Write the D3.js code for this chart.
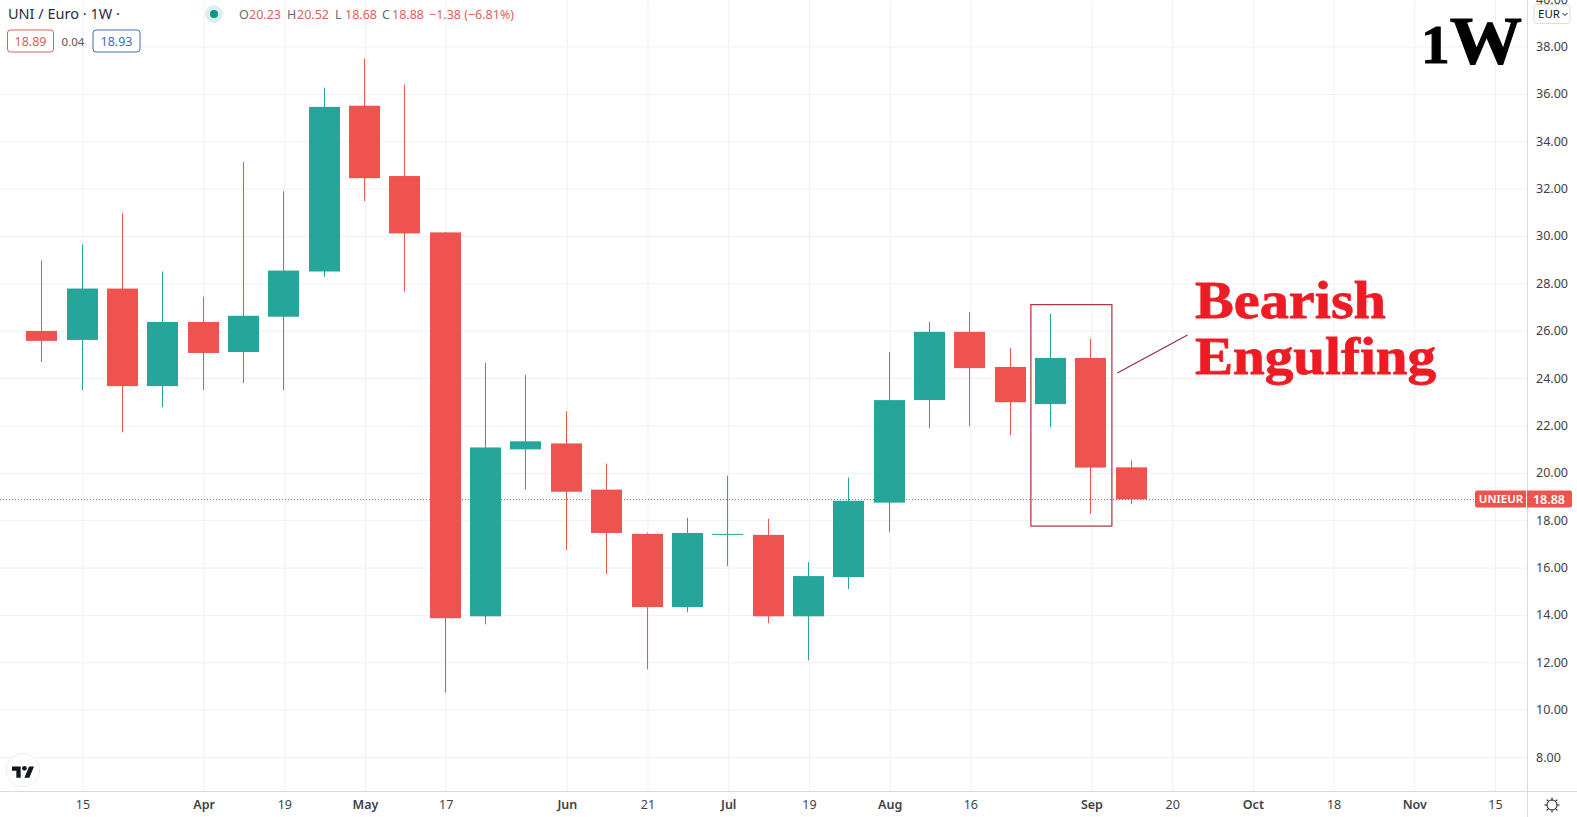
<!DOCTYPE html>
<html>
<head>
<meta charset="utf-8">
<script src="https://d3js.org/d3.v7.min.js"></script>
<style>
body { margin: 0; background: #fff; overflow: hidden; }
text { font-family: "Noto Sans", sans-serif; }
</style>
</head>
<body>
<div id="chart"></div>
<script>
const svgWidth = 1577
const svgHeight = 817

const firstWeek = "2021-03-08"
const opens = [25.99, 25.61, 27.78, 23.66, 26.37, 25.1, 26.59, 28.5, 35.5, 32.53, 30.15, 13.94, 20.99, 21.24, 19.29, 17.42, 14.33, 17.38, 17.38, 13.94, 15.6, 18.74, 23.07, 25.95, 24.47, 22.9, 24.85, 20.23]
const highs = [28.96, 29.64, 30.96, 28.5, 27.44, 33.12, 31.89, 36.26, 37.49, 36.39, 30.15, 24.64, 24.13, 22.6, 20.39, 17.47, 18.1, 19.88, 18.06, 16.23, 19.8, 25.1, 26.37, 26.8, 25.27, 26.71, 25.65, 20.52]
const lows = [24.68, 23.49, 21.71, 22.77, 23.49, 23.79, 23.49, 28.28, 31.47, 27.65, 10.72, 13.6, 19.29, 16.74, 15.73, 11.7, 14.11, 16.07, 13.65, 12.08, 15.09, 17.5, 21.88, 21.96, 21.58, 21.92, 18.27, 18.68]
const closes = [25.57, 27.78, 23.66, 26.37, 25.06, 26.63, 28.54, 35.45, 32.44, 30.11, 13.86, 21.07, 21.33, 19.2, 17.46, 14.33, 17.46, 17.42, 13.94, 15.64, 18.82, 23.07, 25.95, 24.42, 22.98, 24.85, 20.22, 18.88]

const priceTicks = [8, 10, 12, 14, 16, 18, 20, 22, 24, 26, 28, 30, 32, 34, 36, 38, 40]
const timeTicks = ["2021-03-15", "2021-04-05", "2021-04-19", "2021-05-03", "2021-05-17", "2021-06-07", "2021-06-21", "2021-07-05", "2021-07-19", "2021-08-02", "2021-08-16", "2021-09-06", "2021-09-20", "2021-10-04", "2021-10-18", "2021-11-01", "2021-11-15"]
const timeLabels = ["15", "Apr", "19", "May", "17", "Jun", "21", "Jul", "19", "Aug", "16", "Sep", "20", "Oct", "18", "Nov", "15"]
const monthLabels = ["Apr", "May", "Jun", "Jul", "Aug", "Sep", "Oct", "Nov"]

const lastPrice = 18.88

const up = "#26a69a"
const down = "#ef5350"
const gridColor = "#f0f1f3"
const lineColor = "#d9dadb"
const textColor = "#3d3f47"

const parseDay = d3.utcParse("%Y-%m-%d")
const week = 7 * 24 * 3600 * 1000

const plotRight = 1527
const plotBottom = 791

const x = d3.scaleUtc()
    .domain([parseDay("2021-03-15"), parseDay("2021-11-15")])
    .range([82.5, 1495])

const y = d3.scaleLinear()
    .domain([8, 38])
    .range([757, 46.5])

const candles = opens.map((o, i) => ({
    date: new Date(parseDay(firstWeek).getTime() + i * week),
    open: o,
    high: highs[i],
    low: lows[i],
    close: closes[i]
}))

const svg = d3.select("#chart").append("svg")
    .attr("width", svgWidth)
    .attr("height", svgHeight)
    .style("display", "block")

// clip so the marks and grid stay inside the pane
svg.append("clipPath").attr("id", "pane")
    .append("rect")
    .attr("width", plotRight)
    .attr("height", plotBottom)

// grid, drawn from the axes
const gridG = svg.append("g").attr("clip-path", "url(#pane)")

const xGrid = gridG.append("g")
    .attr("transform", `translate(0, ${plotBottom})`)
    .call(d3.axisBottom(x)
        .tickValues(timeTicks.map(parseDay))
        .tickSize(-plotBottom)
        .tickFormat(""))
const yGrid = gridG.append("g")
    .attr("transform", `translate(${plotRight}, 0)`)
    .call(d3.axisLeft(y)
        .tickValues(priceTicks)
        .tickSize(plotRight)
        .tickFormat(""))
gridG.selectAll(".domain").remove()
gridG.selectAll("line").attr("stroke", gridColor)

// last price line, the candles sit on top of it
svg.append("line")
    .attr("x1", 0)
    .attr("x2", plotRight)
    .attr("y1", Math.round(y(lastPrice)) + 0.5)
    .attr("y2", Math.round(y(lastPrice)) + 0.5)
    .attr("stroke", "#b0605c")
    .attr("stroke-dasharray", "1 2")

// candles
const candleG = svg.append("g").attr("clip-path", "url(#pane)")
const candle = candleG.selectAll("g")
    .data(candles)
    .enter()
    .append("g")
    .attr("fill", d => d.close >= d.open ? up : down)
    .attr("stroke", d => d.close >= d.open ? up : down)

candle.append("line")
    .attr("x1", d => Math.round(x(d.date)) - 0.5)
    .attr("x2", d => Math.round(x(d.date)) - 0.5)
    .attr("y1", d => y(d.high))
    .attr("y2", d => y(d.low))

candle.append("rect")
    .attr("x", d => Math.round(x(d.date)) - 16)
    .attr("width", 31)
    .attr("y", d => y(Math.max(d.open, d.close)))
    .attr("height", d => Math.max(1, Math.abs(y(d.open) - y(d.close))))
    .attr("stroke", "none")

// hand drawn annotation
svg.append("rect")
    .attr("x", x(d3.isoParse("2021-08-26T12:00:00Z")))
    .attr("y", y(27.1))
    .attr("width", 81)
    .attr("height", y(17.75) - y(27.1))
    .attr("fill", "none")
    .attr("stroke", "#a6323c")
    .attr("stroke-width", 1.2)

svg.append("line")
    .attr("x1", x(d3.isoParse("2021-09-10T12:00:00Z")))
    .attr("y1", y(24.21))
    .attr("x2", x(d3.isoParse("2021-09-22T16:00:00Z")))
    .attr("y2", y(25.82))
    .attr("stroke", "#8e2a45")
    .attr("stroke-width", 1.1)

const noteStyle = t => t
    .attr("font-weight", 700)
    .style("font-family", "'Liberation Serif', serif")
    .attr("lengthAdjust", "spacingAndGlyphs")

svg.append("text").text("Bearish").call(noteStyle)
    .attr("x", 1195).attr("y", 318)
    .attr("font-size", 52)
    .attr("textLength", 191)
    .attr("fill", "#ed1c24")
    .attr("stroke", "#ed1c24")
    .attr("stroke-width", 0.8)
svg.append("text").text("Engulfing").call(noteStyle)
    .attr("x", 1195).attr("y", 374)
    .attr("font-size", 52)
    .attr("textLength", 241)
    .attr("fill", "#ed1c24")
    .attr("stroke", "#ed1c24")
    .attr("stroke-width", 0.8)

const oneW = svg.append("text").call(noteStyle)
    .attr("x", 1421).attr("y", 63)
    .attr("font-size", 68)
    .attr("textLength", 101)
    .attr("fill", "#000")
    .attr("stroke", "#000")
    .attr("stroke-width", 1)
oneW.append("tspan").attr("font-size", 54).text("1")
oneW.append("tspan").text("W")

// price axis
svg.append("rect")
    .attr("x", plotRight).attr("width", svgWidth - plotRight)
    .attr("height", svgHeight).attr("fill", "#fff")

const yAxisG = svg.append("g")
    .attr("transform", `translate(${plotRight}, 0)`)
    .call(d3.axisRight(y)
        .tickValues(priceTicks)
        .tickSize(0)
        .tickPadding(9)
        .tickFormat(d3.format(".2f")))
yAxisG.select(".domain").remove()
yAxisG.selectAll("text")
    .attr("font-size", 12.5)
    .attr("fill", textColor)

// time axis
svg.append("rect")
    .attr("y", plotBottom).attr("width", svgWidth)
    .attr("height", svgHeight - plotBottom).attr("fill", "#fff")

const xAxisG = svg.append("g")
    .attr("transform", `translate(0, ${plotBottom})`)
    .call(d3.axisBottom(x)
        .tickValues(timeTicks.map(parseDay))
        .tickSize(0)
        .tickPadding(9)
        .tickFormat((d, i) => timeLabels[i]))
xAxisG.select(".domain").remove()
xAxisG.selectAll("text")
    .attr("font-size", 12.5)
    .attr("fill", d => textColor)
    .attr("font-weight", (d, i) => monthLabels.includes(timeLabels[i]) ? 600 : 400)

svg.append("line")
    .attr("x1", 0).attr("x2", svgWidth)
    .attr("y1", plotBottom + 0.5).attr("y2", plotBottom + 0.5)
    .attr("stroke", lineColor)
svg.append("line")
    .attr("x1", plotRight + 0.5).attr("x2", plotRight + 0.5)
    .attr("y1", 0).attr("y2", svgHeight)
    .attr("stroke", lineColor)

// price label on the axis
const tagY = Math.round(y(lastPrice))
svg.append("rect")
    .attr("x", 1475).attr("y", tagY - 8.5)
    .attr("width", 97).attr("height", 17)
    .attr("rx", 2)
    .attr("fill", down)
svg.append("line")
    .attr("x1", 1526.5).attr("x2", 1526.5)
    .attr("y1", tagY - 8.5).attr("y2", tagY + 8.5)
    .attr("stroke", "#fff")
svg.append("text").text("UNIEUR")
    .attr("x", 1501).attr("y", tagY + 4)
    .attr("text-anchor", "middle")
    .attr("font-size", 11.5)
    .attr("font-weight", 600)
    .attr("fill", "#fff")
svg.append("text").text(d3.format(".2f")(lastPrice))
    .attr("x", 1549).attr("y", tagY + 4.5)
    .attr("text-anchor", "middle")
    .attr("font-size", 12.5)
    .attr("font-weight", 600)
    .attr("fill", "#fff")

// currency button
svg.append("rect")
    .attr("x", 1534).attr("y", 4.5)
    .attr("width", 36).attr("height", 19)
    .attr("rx", 3)
    .attr("fill", "#fff")
    .attr("stroke", "#dcdde0")
svg.append("text").text("EUR")
    .attr("x", 1538).attr("y", 18)
    .attr("font-size", 11.5)
    .attr("fill", "#131722")
svg.append("path")
    .attr("d", "M1562.5 13l2.5 2.5 2.5-2.5")
    .attr("fill", "none")
    .attr("stroke", "#131722")

// legend
const legendRow = (label, xPos, color) => svg.append("text").text(label)
    .attr("x", xPos).attr("y", 19)
    .attr("font-size", 12.5)
    .attr("fill", color)

svg.append("text").text("UNI / Euro · 1W ·")
    .attr("x", 8).attr("y", 19)
    .attr("font-size", 14.5)
    .attr("fill", "#2a2e39")

svg.append("circle").attr("cx", 214).attr("cy", 14).attr("r", 9).attr("fill", "#d9f0ee")
svg.append("circle").attr("cx", 214).attr("cy", 14).attr("r", 4).attr("fill", "#0f9488")

const ohlcLabels = ["O", "H", "L", "C"]
const ohlcValues = ["20.23", "20.52", "18.68", "18.88"]
const ohlcX = [239, 287, 335, 382]
ohlcLabels.forEach((l, i) => {
    legendRow(l, ohlcX[i], "#666a75")
    legendRow(ohlcValues[i], ohlcX[i] + 10, "#e0605c")
})
legendRow("−1.38 (−6.81%)", 429, "#e0605c")

const spreadBox = (xPos, w, label, color) => {
    svg.append("rect")
        .attr("x", xPos).attr("y", 30)
        .attr("width", w).attr("height", 22)
        .attr("rx", 3)
        .attr("fill", "#fff")
        .attr("stroke", color)
    svg.append("text").text(label)
        .attr("x", xPos + w / 2).attr("y", 45.5)
        .attr("text-anchor", "middle")
        .attr("font-size", 12.5)
        .attr("fill", color)
}
spreadBox(7.5, 46, "18.89", "#d9605c")
spreadBox(93, 47, "18.93", "#3f6fb5")
svg.append("text").text("0.04")
    .attr("x", 73).attr("y", 45.5)
    .attr("text-anchor", "middle")
    .attr("font-size", 11.5)
    .attr("fill", "#555")

// TradingView badge
svg.append("circle")
    .attr("cx", 23).attr("cy", 770).attr("r", 16.5)
    .attr("fill", "#fff")
    .attr("stroke", "#eceded")
svg.append("path")
    .attr("transform", "translate(12, 764) scale(0.62)")
    .attr("d", "M14 22H7V11H0V4h14v18zM28 22h-8l7.5-18h8L28 22z")
    .attr("fill", "#131722")
svg.append("circle")
    .attr("cx", 24.4).attr("cy", 768.3).attr("r", 2.4)
    .attr("fill", "#131722")

// settings gear
const gear = svg.append("g").attr("transform", "translate(1552, 805)")
gear.append("circle").attr("r", 5).attr("fill", "none").attr("stroke", "#131722")
d3.range(8).forEach(i => {
    gear.append("line")
        .attr("y1", -5).attr("y2", -7.5)
        .attr("transform", `rotate(${i * 45})`)
        .attr("stroke", "#131722")
})
</script>
</body>
</html>
